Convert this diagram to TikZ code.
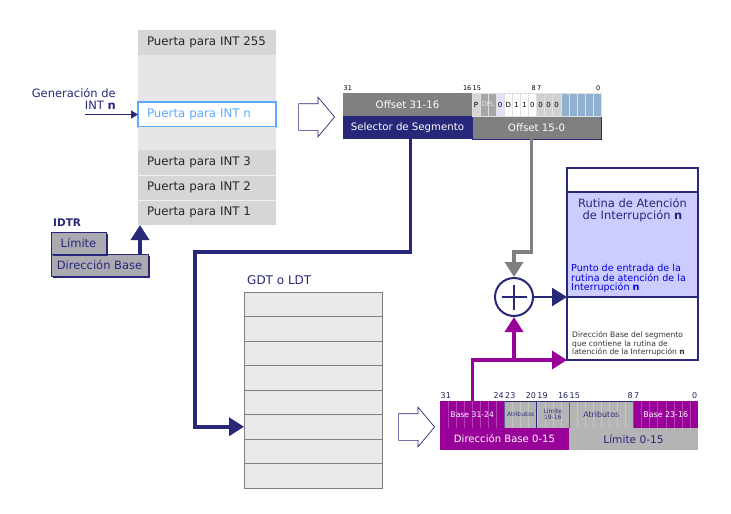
\documentclass[tikz,border=0pt]{standalone}
\usepackage{fontspec}
\setmainfont{DejaVu Sans}
\usetikzlibrary{
    positioning,
    shapes.arrows,
    shadows,
    arrows.meta,
    calc
}
\definecolor{navy}{RGB}{40,40,122}
\definecolor{selblue}{RGB}{90,170,255}
\definecolor{rowdark}{RGB}{214,214,214}
\definecolor{rowlight}{RGB}{230,230,230}
\definecolor{regfill}{RGB}{170,170,176}
\definecolor{gdgray}{RGB}{128,128,128}
\definecolor{gdbit}{RGB}{166,166,166}
\definecolor{bitgray}{RGB}{208,208,208}
\definecolor{bitblue}{RGB}{143,176,208}
\definecolor{bitlav}{RGB}{224,224,255}
\definecolor{rtlav}{RGB}{204,204,255}
\definecolor{entryblue}{RGB}{0,0,220}
\definecolor{sdpurple}{RGB}{153,0,153}
\definecolor{sdgray}{RGB}{180,180,180}
\definecolor{gdtfill}{RGB}{233,233,233}
\tikzset {
    idt row/.style = {anchor = north west, fill = rowdark, minimum width = 138pt,
        minimum height = 25pt, inner xsep = 9pt, inner ysep = 0pt, outer sep = 0pt,
        text width = 120pt, align = left, text = black!85,
        font = \fontsize{11.8}{14}\selectfont},
    idt gap/.style = {anchor = north west, fill = rowlight, minimum width = 138pt,
        inner sep = 0pt, outer sep = 0pt},
    idt sel/.style = {idt row, fill = white, draw = selblue, line width = 1.5pt,
        text = selblue},
    navy label/.style = {text = navy, inner sep = 1pt,
        font = \fontsize{11.5}{12.5}\selectfont},
    reg box/.style = {anchor = north west, fill = regfill, draw = navy,
        line width = 0.8pt, text = navy, minimum height = 22pt, inner sep = 0pt,
        outer sep = 0pt, font = \fontsize{11.5}{12}\selectfont,
        drop shadow = {shadow xshift = 2pt, shadow yshift = -2pt, fill = navy,
            opacity = 1}},
    hollow arrow/.style = {single arrow, draw = navy, fill = white,
        line width = 0.7pt, minimum height = 36pt, minimum width = 1pt,
        inner xsep = 0pt, inner ysep = 13pt, single arrow head extend = 6.5pt,
        single arrow tip angle = 100},
    gd cell/.style = {anchor = north west, minimum width = 129pt,
        minimum height = 23pt, inner sep = 0pt, outer sep = 0pt, text = white,
        font = \fontsize{10.2}{11}\selectfont},
    bit cell/.style = {anchor = north west, minimum width = 8.0625pt,
        minimum height = 23pt, inner sep = 0pt, outer sep = 0pt,
        draw = white!75!gray, line width = 0.3pt,
        font = \fontsize{7}{8}\selectfont},
    bit num/.style = {inner xsep = 0.5pt, inner ysep = 2pt,
        font = \fontsize{6.5}{7}\selectfont},
    sd num/.style = {bit num, text = navy!80!black,
        font = \fontsize{8}{9}\selectfont},
    sd cell/.style = {anchor = north west, minimum height = 27pt,
        inner sep = 0pt, outer sep = 0pt, align = center},
    sd purple/.style = {sd cell, fill = sdpurple, text = white},
    sd gray/.style = {sd cell, fill = sdgray, draw = navy, line width = 0.8pt,
        text = navy},
    bit line/.style = {white, opacity = 0.25, line width = 0.4pt},
    gdt row/.style = {anchor = north west, fill = gdtfill, draw = gray,
        line width = 0.6pt, minimum width = 138pt, minimum height = 24.5pt,
        inner sep = 0pt, outer sep = 0pt},
    rt part/.style = {anchor = north west, fill = white, draw = navy,
        line width = 1.6pt, minimum width = 131pt, inner sep = 0pt,
        outer sep = 0pt},
    adder/.style = {circle, draw = navy, fill = white, line width = 2pt,
        minimum size = 38pt, inner sep = 0pt},
    navy link/.style = {draw = navy, line width = 3.5pt,
        -{Triangle[length = 15pt, width = 18pt]}},
    gray link/.style = {navy link, draw = gdgray},
    purple link/.style = {navy link, draw = sdpurple},
    thin link/.style = {draw = navy, line width = 1.5pt,
        -{Triangle[length = 7pt, width = 8pt]}}
}

\begin{document}
\begin{tikzpicture}[x = 1pt, y = -1pt]
    \useasboundingbox (0, 0) rectangle (731, 514);
    % tabla IDT
    \node[idt row] (g255) at (138, 30) {Puerta para INT 255};
    \node[idt gap, minimum height = 47pt] (gapa) at (g255.south west) {};
    \node[idt sel] (gn) at (gapa.south west) {Puerta para INT n};
    \node[idt gap, minimum height = 23pt] (gapb) at (138, 127) {};
    \node[idt row] (g3) at (gapb.south west) {Puerta para INT 3};
    \node[idt row] (g2) at (g3.south west) {Puerta para INT 2};
    \node[idt row] (g1) at (g2.south west) {Puerta para INT 1};
    \draw[white!88!gray] (g3.south west) -- (g3.south east);
    \draw[white!88!gray] (g2.south west) -- (g2.south east);

    \node[navy label, align = right, anchor = south east] (gen) at (117, 111)
        {Generación de\\INT \textbf{n}};
    \coordinate (genin) at (85, 114.5);
    \draw[thin link] (genin) -- (gn.west);

    % IDTR
    \node[reg box, minimum width = 97pt] (dbase) at (51, 254) {Dirección Base};
    \node[reg box, minimum width = 55pt, anchor = south west] (limit)
        at (dbase.north west) {Límite};
    \node[navy label, anchor = south west, font = \fontsize{10.5}{12}\bfseries]
        (idtr) at (52, 228) {IDTR};
    \coordinate (idtrup) at (140, 254);
    \draw[navy link] (idtrup) -- (idtrup |- g1.south);

    \node[hollow arrow] (hollowa) at (311, 117) {};

    % descriptor de puerta
    \node[gd cell, fill = gdgray] (offhi) at (343, 93) {Offset 31-16};
    \node[gd cell, fill = navy] (sel) at (offhi.south west) {Selector de Segmento};
    \node[gd cell, fill = gdgray, draw = navy, line width = 0.8pt] (offlo)
        at (offhi.south east) {Offset 15-0};
    \foreach \i/\f/\t in {0/rowdark/P, 1/gdbit/{}, 2/gdbit/{}, 3/bitlav/0,
        4/white/D, 5/white/1, 6/white/1, 7/white/0, 8/bitgray/0, 9/bitgray/0,
        10/bitgray/0, 11/bitblue/{}, 12/bitblue/{}, 13/bitblue/{},
        14/bitblue/{}, 15/bitblue/{}}
        \node[bit cell, fill = \f] (gb\i) at ($(offhi.north east) + (\i*8.0625, 0)$) {\t};
    \node[inner sep = 0pt, text = white!85!gray, font = \fontsize{6.5}{7}\selectfont]
        (dpl) at ($(gb1.center)!0.5!(gb2.center)$) {DPL};
    \node[bit num, anchor = south west] (n31) at (offhi.north west) {31};
    \node[bit num, anchor = south east] (n16) at (offhi.north east) {16};
    \node[bit num, anchor = south west] (n15) at (gb0.north west) {15};
    \node[bit num, anchor = south east] (n8) at (gb7.north east) {8};
    \node[bit num, anchor = south west] (n7) at (gb8.north west) {7};
    \node[bit num, anchor = south east] (n0) at (gb15.north east) {0};

    % rutina de atención
    \node[rt part, minimum height = 24pt] (rttop) at (567, 168) {};
    \node[rt part, fill = rtlav, minimum height = 105pt] (rtmid) at (rttop.south west) {};
    \node[rt part, minimum height = 63pt] (rtbot) at (rtmid.south west) {};
    \node[navy label, align = center, below = 5pt of rtmid.north] (rttitle)
        {Rutina de Atención\\de Interrupción \textbf{n}};
    \node[anchor = south west, align = left, inner sep = 0pt, text = entryblue,
        font = \fontsize{9.6}{9.5}\selectfont] (rtentry)
        at ($(rtmid.south west) + (4, -4)$)
        {Punto de entrada de la\\rutina de atención de la\\Interrupción \textbf{n}};
    \node[anchor = south west, align = left, inner sep = 0pt, text = black!80,
        font = \fontsize{7.6}{8.2}\selectfont] (rtbase)
        at ($(rtbot.south west) + (5, -4)$)
        {Dirección Base del segmento\\que contiene la rutina de\\latención de la Interrupción \textbf{n}};

    \node[adder] (plus) at (514, 297) {};
    \draw[navy, line width = 2.5pt]
        ($(plus.center) + (-12.5, 0)$) -- ($(plus.center) + (12.5, 0)$)
        ($(plus.center) + (0, -12.5)$) -- ($(plus.center) + (0, 12.5)$);

    % GDT o LDT
    \node[navy label, anchor = south west, font = \fontsize{12}{13}\selectfont]
        (gdtlabel) at (246, 286) {GDT o LDT};
    \foreach \r in {1,...,8}
        \node[gdt row] (gdt\r) at (244, 267.5 + \r*24.5) {};

    \node[hollow arrow] (hollowb) at (411, 427) {};

    % descriptor de segmento
    \node[sd purple, minimum width = 64.5pt, font = \fontsize{7.7}{8}\selectfont]
        (basehi) at (440, 401) {Base 31-24};
    \node[sd gray, minimum width = 32.25pt, font = \fontsize{6}{6.5}\selectfont]
        (attra) at (basehi.north east) {Atributos};
    \node[sd gray, minimum width = 32.25pt, font = \fontsize{6}{6}\selectfont]
        (limhi) at (attra.north east) {Límite\\19-16};
    \node[sd gray, minimum width = 64.5pt, font = \fontsize{7.9}{8}\selectfont]
        (attrb) at (limhi.north east) {Atributos};
    \node[sd purple, minimum width = 64.5pt, font = \fontsize{7.9}{8}\selectfont]
        (basemid) at (attrb.north east) {Base 23-16};
    \node[sd purple, minimum width = 129pt, minimum height = 22pt,
        font = \fontsize{10.1}{11}\selectfont] (dbaselo) at (basehi.south west)
        {Dirección Base 0-15};
    \node[sd cell, fill = sdgray, text = navy, minimum width = 129pt,
        minimum height = 22pt, font = \fontsize{10.6}{11}\selectfont] (limlo)
        at (dbaselo.north east) {Límite 0-15};
    \foreach \k in {1,...,31}
        \draw[bit line] ($(basehi.north west) + (\k*8.0625, 0)$) -- ++(0, 27);
    \node[sd num, anchor = south west] (s31) at (basehi.north west) {31};
    \node[sd num, anchor = south east] (s24) at (basehi.north east) {24};
    \node[sd num, anchor = south west] (s23) at (attra.north west) {23};
    \node[sd num, anchor = south east] (s20) at (attra.north east) {20};
    \node[sd num, anchor = south west] (s19) at (limhi.north west) {19};
    \node[sd num, anchor = south east] (s16) at (limhi.north east) {16};
    \node[sd num, anchor = south west] (s15) at (attrb.north west) {15};
    \node[sd num, anchor = south east] (s8) at (attrb.north east) {8};
    \node[sd num, anchor = south west] (s7) at (basemid.north west) {7};
    \node[sd num, anchor = south east] (s0) at (basemid.north east) {0};

    % conexiones
    \coordinate (bendsel) at (195, 252);
    \draw[navy link] ($(sel.south) + (3, 0)$) |- (bendsel) |- (gdt6.west);
    \coordinate (bendoff) at (514, 252);
    \draw[gray link] ($(offlo.south) + (-5, 0)$) |- (bendoff) -- (plus.north);
    \draw[navy link, line width = 2.5pt] (plus.east) -- (rtmid.south west);
    \draw[purple link] (basehi.north) |- (rtbot.south west);
    \draw[purple link] (plus.south |- rtbot.south west) -- (plus.south);
\end{tikzpicture}
\end{document}
